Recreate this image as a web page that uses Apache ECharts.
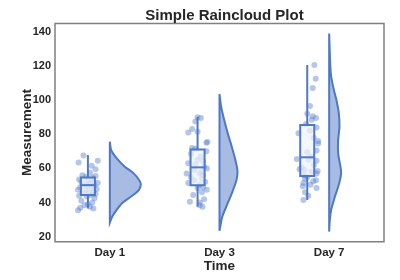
<!DOCTYPE html>
<html><head><meta charset="utf-8">
<script src="https://cdn.jsdelivr.net/npm/echarts@6/dist/echarts.min.js"></script>
<style>html,body{margin:0;padding:0;background:#fff}#c{width:400px;height:280px}</style>
</head><body><div id="c"></div>
<script>
const categories = ['Day 1', 'Day 3', 'Day 7'];
const yTicks = [20, 40, 60, 80, 100, 120, 140];

const day1Values = [67.5,63.5,64.5,61.5,59.5,56,55,54.5,55.5,53.5,53,52.5,52,51.5,51,50.5,50,49.5,49,48.5,48,47.5,47,46.5,46,45.5,45,44.5,44,43.5,42.5,41,40,39,38.5,37.5,37,35.5,36.5,57.5];
const day1Jitter = [-0.04,-0.085,0.09,0.035,0.07,-0.05,-0.02,0.04,0.07,-0.08,0.0,0.05,-0.06,0.09,0.02,-0.03,0.06,0.0,-0.07,0.04,0.08,-0.09,-0.02,0.05,0.01,-0.05,0.07,0.03,-0.08,-0.01,0.06,-0.06,0.04,0.0,-0.03,0.02,-0.07,-0.09,0.05,0.02];

const day3Values = [90,89.5,87.5,83,81,81.5,75.5,75,72,71.5,70,67,65,64,63,62.5,61,60,59,58,57,57,56,55,54,53,52,51.5,50.5,49,48.5,47.5,46,44.5,42,40.5,40,38.5,37.5,68.5];
const day3Jitter = [0.0,0.03,-0.02,-0.05,-0.085,0.0,0.09,0.08,-0.05,-0.02,0.08,0.03,0.0,0.05,-0.085,-0.02,0.06,0.085,-0.03,0.04,-0.1,0.02,0.05,-0.06,0.04,-0.03,0.07,-0.085,0.02,0.05,0.0,0.085,0.04,-0.04,0.06,-0.07,0.02,0.02,0.045,-0.06];

const day7Values = [120.5,112.5,107,96.5,92,90.5,89.5,88.5,84,82,80.5,78,74.5,70.5,69.5,67,65.5,65,64.5,62,60.5,59.5,59,58.5,58,57,56,55,54,53,52.5,51.5,50.5,49.5,48.5,46,44,41.5,86,76];
const day7Jitter = [0.065,0.077,0.05,0.025,0.0,0.05,0.08,0.04,0.085,0.025,-0.08,0.06,0.1,0.085,0.0,0.04,-0.095,0.01,0.085,0.06,-0.05,-0.07,-0.025,0.095,0.04,0.085,-0.03,0.0,-0.02,0.08,0.055,-0.035,0.03,-0.04,0.085,-0.02,0.01,-0.035,-0.01,0.1];

// [whisker low, Q1, median, Q3, whisker high]
const boxStats = [
  [36.6, 44.4, 50.2, 54.7, 67.8],
  [37.5, 50.2, 60.6, 71.1, 90.2],
  [41.5, 55.5, 66.5, 85.4, 120.5]
];

// half-violin outlines: measurement levels and half-widths (x units)
const violin1Levels = [75.6,70.7,66.8,61,57.1,51.2,47.3,43.4,39.5,35.6,31.7,28.2];
const violin1Widths = [0,0.012,0.052,0.136,0.218,0.282,0.264,0.191,0.109,0.061,0.021,0];
const violin3Levels = [103.5,96.1,88.3,80.5,72.7,64.9,58.6,53.2,45.4,37.5,31.7,23.5];
const violin3Widths = [0,0.015,0.043,0.075,0.112,0.145,0.164,0.155,0.112,0.061,0.025,0];
const violin7Levels = [139,127.4,115.6,107.8,100,92.2,84.4,76.6,68.8,61,57.1,51.2,43.4,35.6,29.8,23];
const violin7Widths = [0,0.006,0.015,0.036,0.066,0.088,0.094,0.082,0.082,0.103,0.109,0.091,0.052,0.018,0.006,0];

const valuesByDay = [day1Values, day3Values, day7Values];
const jitterByDay = [day1Jitter, day3Jitter, day7Jitter];
const violinLevels = [violin1Levels, violin3Levels, violin7Levels];
const violinWidths = [violin1Widths, violin3Widths, violin7Widths];

const BLUE = '#4f78c8';
const boxOffset = -0.2, boxHalf = 0.064;

const scatterData = [];
valuesByDay.forEach((vals, i) => vals.forEach((v, k) => scatterData.push([i + boxOffset + jitterByDay[i][k], v])));

const chart = echarts.init(document.getElementById('c'), null, {renderer: 'canvas'});
const txt = '#262626';
chart.setOption({
  animation: false,
  title: {text: 'Simple Raincloud Plot', left: 219.5, textAlign: 'center', top: 3,
    textStyle: {fontFamily: 'Liberation Sans', fontSize: 15, fontWeight: 'bold', color: txt}},
  grid: {left: 55, right: 16, top: 23.5, bottom: 38.3, show: true, borderColor: '#808080', borderWidth: 1.5, backgroundColor: 'transparent'},
  xAxis: {type: 'value', min: -0.5, max: 2.5,
    axisLine: {show: false}, axisTick: {show: false}, splitLine: {show: false},
    axisLabel: {customValues: [0, 1, 2], formatter: v => categories[Math.round(v)], margin: 5,
      fontFamily: 'Liberation Sans', fontSize: 11.5, fontWeight: 'bold', color: txt},
    name: 'Time', nameLocation: 'middle', nameGap: 18, nameMoveOverlap: false,
    nameTextStyle: {fontFamily: 'Liberation Sans', fontSize: 13.5, fontWeight: 'bold', color: txt, verticalAlign: 'top'}},
  yAxis: {type: 'value', min: 17.1, max: 144.8,
    axisLine: {show: false}, axisTick: {show: false}, splitLine: {show: false},
    axisLabel: {customValues: yTicks, margin: 4, fontFamily: 'Liberation Sans', fontSize: 11, fontWeight: 'bold', color: txt},
    name: 'Measurement', nameLocation: 'middle', nameGap: 21, nameRotate: 90, nameMoveOverlap: false,
    nameTextStyle: {fontFamily: 'Liberation Sans', fontSize: 13.5, fontWeight: 'bold', color: txt}},
  series: [
    {type: 'scatter', data: scatterData, symbolSize: 6, z: 2,
      itemStyle: {color: '#5a80cc', opacity: 0.45}},
    {type: 'custom', z: 3, data: [0, 1, 2],
      renderItem: (params, api) => {
        const i = params.dataIndex, s = boxStats[i], c = i + boxOffset;
        const tl = api.coord([c - boxHalf, s[3]]), br = api.coord([c + boxHalf, s[1]]);
        const ls = {stroke: BLUE, lineWidth: 2};
        const line = (a, b) => ({type: 'line', shape: {x1: a[0], y1: a[1], x2: b[0], y2: b[1]}, style: ls});
        return {type: 'group', children: [
          line(api.coord([c, s[0]]), api.coord([c, s[1]])),
          line(api.coord([c, s[3]]), api.coord([c, s[4]])),
          {type: 'rect', shape: {x: tl[0], y: tl[1], width: br[0] - tl[0], height: br[1] - tl[1]},
            style: {fill: 'rgba(238,242,250,0.72)', stroke: BLUE, lineWidth: 2}},
          line(api.coord([c - boxHalf, s[2]]), api.coord([c + boxHalf, s[2]]))
        ]};
      }},
    {type: 'custom', z: 4, data: [0, 1, 2],
      renderItem: (params, api) => {
        const i = params.dataIndex, L = violinLevels[i], W = violinWidths[i];
        const pts = L.map((v, k) => api.coord([i + W[k], v]));
        const poly = [pts[0]].concat(pts, [pts[pts.length - 1]]);
        return {type: 'polygon', shape: {points: poly, smooth: 0.25},
          style: {fill: 'rgba(79,120,200,0.5)', stroke: BLUE, lineWidth: 2}};
      }}
  ]
});
</script></body></html>
